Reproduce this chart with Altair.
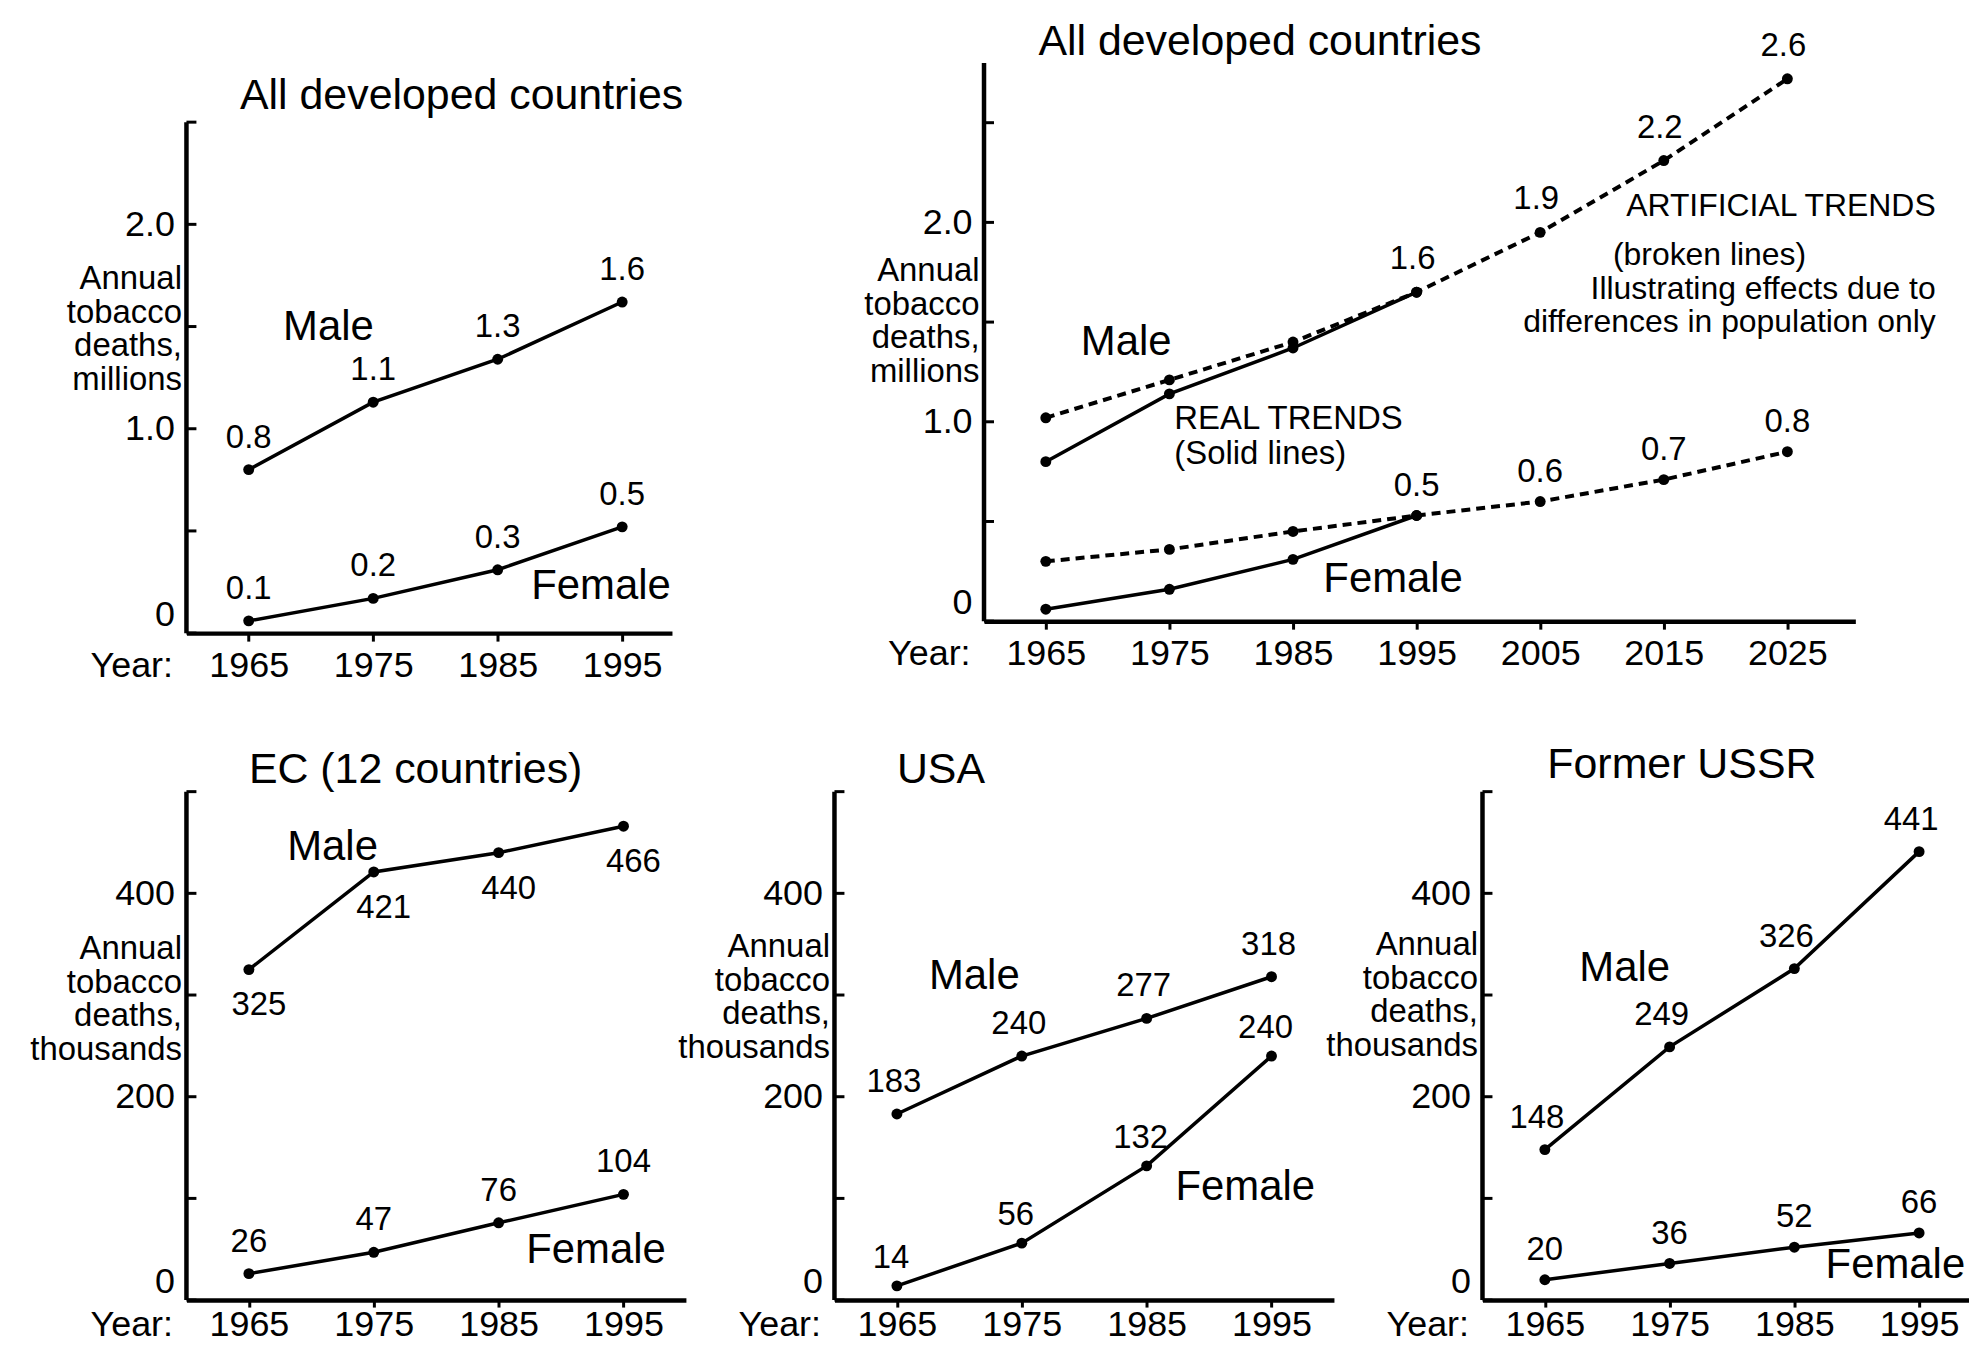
import altair as alt
import pandas as pd

FONT = "Liberation Sans"

# ---------------- data ----------------
years4 = [1965, 1975, 1985, 1995]
years7 = [1965, 1975, 1985, 1995, 2005, 2015, 2025]

dev_male = [0.80, 1.13, 1.34, 1.62]
dev_female = [0.06, 0.17, 0.31, 0.52]
dev_male_lbl = ["0.8", "1.1", "1.3", "1.6"]
dev_female_lbl = ["0.1", "0.2", "0.3", "0.5"]

proj_male_real = [0.80, 1.14, 1.37, 1.65]
proj_female_real = [0.06, 0.16, 0.31, 0.53]
proj_male_art = [1.02, 1.21, 1.40, 1.65, 1.95, 2.31, 2.72]
proj_female_art = [0.30, 0.36, 0.45, 0.53, 0.60, 0.71, 0.85]
proj_male_lbl = ["", "", "", "1.6", "1.9", "2.2", "2.6"]
proj_female_lbl = ["", "", "", "0.5", "0.6", "0.7", "0.8"]

ec_male = [325, 421, 440, 466]
ec_female = [26, 47, 76, 104]
usa_male = [183, 240, 277, 318]
usa_female = [14, 56, 132, 240]
ussr_male = [148, 249, 326, 441]
ussr_female = [20, 36, 52, 66]

ticks_millions = [0, 0.5, 1.0, 1.5, 2.0, 2.5]
ticks_thousands = [0, 100, 200, 300, 400, 500]
ticks_years4 = [1965, 1975, 1985, 1995]
ticks_years7 = [1965, 1975, 1985, 1995, 2005, 2015, 2025]

title_millions = ["Annual", "tobacco", "deaths,", "millions"]
title_thousands = ["Annual", "tobacco", "deaths,", "thousands"]

# panel titles, anchored at (year, value) of their left baseline
p1_title = [(1964.3, 2.566, "All developed countries")]
p2_title = [(1964.4, 2.8375, "All developed countries")]
ec_title = [(1965.0, 508.3, "EC (12 countries)")]
usa_title = [(1965.0, 508.3, "USA")]
ussr_title = [(1965.2, 513.2, "Former USSR")]

# annotation texts with their anchor (year, value)
p1_notes = [(1971.4, 1.50, "Male"), (1993.3, 0.23, "Female")]
p2_notes = [(1971.5, 1.40, "Male"), (1993.1, 0.21, "Female")]
p2_notes_left = [(1975.4, 1.015, "REAL TRENDS"), (1975.4, 0.84, "(Solid lines)")]
p2_notes_right = [(2037.0, 2.08, "ARTIFICIAL TRENDS"),
                  (2037.0, 1.665, "Illustrating effects due to"),
                  (2037.0, 1.50, "differences in population only")]
p2_notes_center = [(2018.7, 1.835, "(broken lines)")]
ec_notes = [(1971.7, 446, "Male"), (1992.8, 49, "Female")]
usa_notes = [(1971.2, 319, "Male"), (1992.9, 111, "Female")]
ussr_notes = [(1971.4, 327, "Male"), (1993.1, 34, "Female")]

LBL_MILLIONS = ("datum.value == 0 ? '0' : ((datum.value == 1 || datum.value == 2) "
                "? format(datum.value, '.1f') : '')")
LBL_THOUSANDS = ("(datum.value == 0 || datum.value == 200 || datum.value == 400) "
                 "? datum.label : ''")


def notes_df(notes):
    return pd.DataFrame({"year": [n[0] for n in notes],
                         "value": [n[1] for n in notes],
                         "text": [n[2] for n in notes]})


def build_panel(width, height, x_dom, x_ticks, y_dom, y_top, y_ticks,
                y_label_expr, y_title, y_title_y, lines, labels, notes,
                x_tick_size=8, x_label_pad=7, x_title_y=15):
    xs = alt.Scale(domain=x_dom, nice=False, zero=False)
    ys = alt.Scale(domain=y_dom, nice=False, zero=False)
    xaxis = alt.Axis(values=x_ticks, format="d", grid=False,
                     domainColor="black", domainWidth=4.5,
                     tickColor="black", tickWidth=3, tickSize=x_tick_size,
                     labelColor="black", labelFont=FONT, labelFontSize=36,
                     labelPadding=x_label_pad, labelOverlap=False, labelFlush=False,
                     title="Year:", titleAngle=0, titleAlign="right",
                     titleBaseline="top", titleX=-14, titleY=x_title_y,
                     titleFont=FONT, titleFontSize=36, titleFontWeight="normal",
                     titleColor="black")
    yaxis = alt.Axis(values=y_ticks, labelExpr=y_label_expr, grid=False,
                     domain=False, ticks=False,
                     labelColor="black", labelFont=FONT, labelFontSize=36,
                     labelPadding=12, labelOverlap=False, labelFlush=True,
                     title=y_title, titleAngle=0, titleAlign="right",
                     titleBaseline="top", titleX=-5, titleY=y_title_y,
                     titleFont=FONT, titleFontSize=33, titleLineHeight=34,
                     titleFontWeight="normal", titleColor="black")

    def X(field="year"):
        return alt.X(f"{field}:Q", scale=xs, axis=xaxis)

    def Y(field="value"):
        return alt.Y(f"{field}:Q", scale=ys, axis=yaxis)

    layers = []
    # vertical axis line (drawn from 0 to the top tick)
    axis_df = pd.DataFrame({"year": [x_dom[0]], "value": [0], "hi": [y_top]})
    layers.append(alt.Chart(axis_df).mark_rule(color="black", strokeWidth=4.5).encode(
        x=X(), y=Y(), y2="hi:Q"))
    # inward ticks
    tick_df = pd.DataFrame({"value": y_ticks})
    layers.append(alt.Chart(tick_df).mark_rule(color="black", strokeWidth=3).encode(
        y=Y(), x=alt.value(0), x2=alt.value(10)))
    # series lines + points
    for yrs, vals, dashed in lines:
        df = pd.DataFrame({"year": yrs, "value": vals})
        if dashed:
            lm = alt.Chart(df).mark_line(color="black", strokeWidth=4, strokeDash=[9, 6])
        else:
            lm = alt.Chart(df).mark_line(color="black", strokeWidth=3.5)
        layers.append(lm.encode(x=X(), y=Y()))
        layers.append(alt.Chart(df).mark_point(filled=True, size=120, color="black",
                                               opacity=1).encode(x=X(), y=Y()))
    # value labels
    for yrs, vals, texts, dy, dx in labels:
        df = pd.DataFrame({"year": yrs, "value": vals, "text": texts})
        layers.append(alt.Chart(df).mark_text(dy=dy, dx=dx, font=FONT, fontSize=33,
                                              color="black", baseline="middle").encode(
            x=X(), y=Y(), text="text:N"))
    # annotations and panel titles
    for nts, align, size, baseline in notes:
        layers.append(alt.Chart(notes_df(nts)).mark_text(
            align=align, baseline=baseline, font=FONT, fontSize=size,
            color="black").encode(x=X(), y=Y(), text="text:N"))
    return alt.layer(*layers).properties(width=width, height=height)


p1 = build_panel(
    487, 572, [1960, 1999], ticks_years4,
    [0, 2.79], 2.5, ticks_millions, LBL_MILLIONS, title_millions, 200,
    [(years4, dev_male, False), (years4, dev_female, False)],
    [(years4, dev_male, dev_male_lbl, -32, 0),
     (years4, dev_female, dev_female_lbl, -32, 0)],
    [(p1_title, "left", 43, "alphabetic"), (p1_notes, "center", 42, "middle")])

p2 = build_panel(
    874, 560, [1960, 2030.5], ticks_years7,
    [0, 2.8], 2.8, ticks_millions, LBL_MILLIONS, title_millions, 192,
    [(years4, proj_male_real, False), (years4, proj_female_real, False),
     (years7, proj_male_art, True), (years7, proj_female_art, True)],
    [(years7, proj_male_art, proj_male_lbl, -33, -4),
     (years7, proj_female_art, proj_female_lbl, -30, 0)],
    [(p2_title, "left", 43, "alphabetic"), (p2_notes, "center", 42, "middle"),
     (p2_notes_left, "left", 33, "middle"), (p2_notes_right, "right", 32, "middle"),
     (p2_notes_center, "center", 32, "middle")])

BOTTOM_AXIS = dict(x_tick_size=7, x_label_pad=1, x_title_y=8)

ec = build_panel(
    501, 510, [1960, 2000], ticks_years4,
    [0, 500], 500, ticks_thousands, LBL_THOUSANDS, title_thousands, 141,
    [(years4, ec_male, False), (years4, ec_female, False)],
    [(years4, ec_male, [str(v) for v in ec_male], 36, 10),
     (years4, ec_female, [str(v) for v in ec_female], -32, 0)],
    [(ec_title, "left", 43, "alphabetic"), (ec_notes, "center", 42, "middle")],
    **BOTTOM_AXIS)

usa = build_panel(
    501, 510, [1960, 2000], ticks_years4,
    [0, 500], 500, ticks_thousands, LBL_THOUSANDS, title_thousands, 139,
    [(years4, usa_male, False), (years4, usa_female, False)],
    [(years4, usa_male, [str(v) for v in usa_male], -32, -3),
     (years4, usa_female, [str(v) for v in usa_female], -28, -6)],
    [(usa_title, "left", 43, "alphabetic"), (usa_notes, "center", 42, "middle")],
    **BOTTOM_AXIS)

ussr = build_panel(
    488, 510, [1960, 1999], ticks_years4,
    [0, 500], 500, ticks_thousands, LBL_THOUSANDS, title_thousands, 137,
    [(years4, ussr_male, False), (years4, ussr_female, False)],
    [(years4, ussr_male, [str(v) for v in ussr_male], -32, -8),
     (years4, ussr_female, [str(v) for v in ussr_female], -30, 0)],
    [(ussr_title, "left", 43, "alphabetic"), (ussr_notes, "center", 42, "middle")],
    **BOTTOM_AXIS)

top_row = alt.hconcat(p1, p2, spacing=313, bounds="flush")
bottom_row = alt.hconcat(ec, usa, ussr, spacing=149, bounds="flush")

chart = alt.vconcat(top_row, bottom_row, spacing=731, bounds="flush").properties(
    padding={"left": 21, "top": 11, "right": 0, "bottom": 0},
    background="white",
).configure(font=FONT).configure_view(stroke=None, strokeWidth=0)

chart.save("out.html", embed_options={"renderer": "svg", "actions": False})
